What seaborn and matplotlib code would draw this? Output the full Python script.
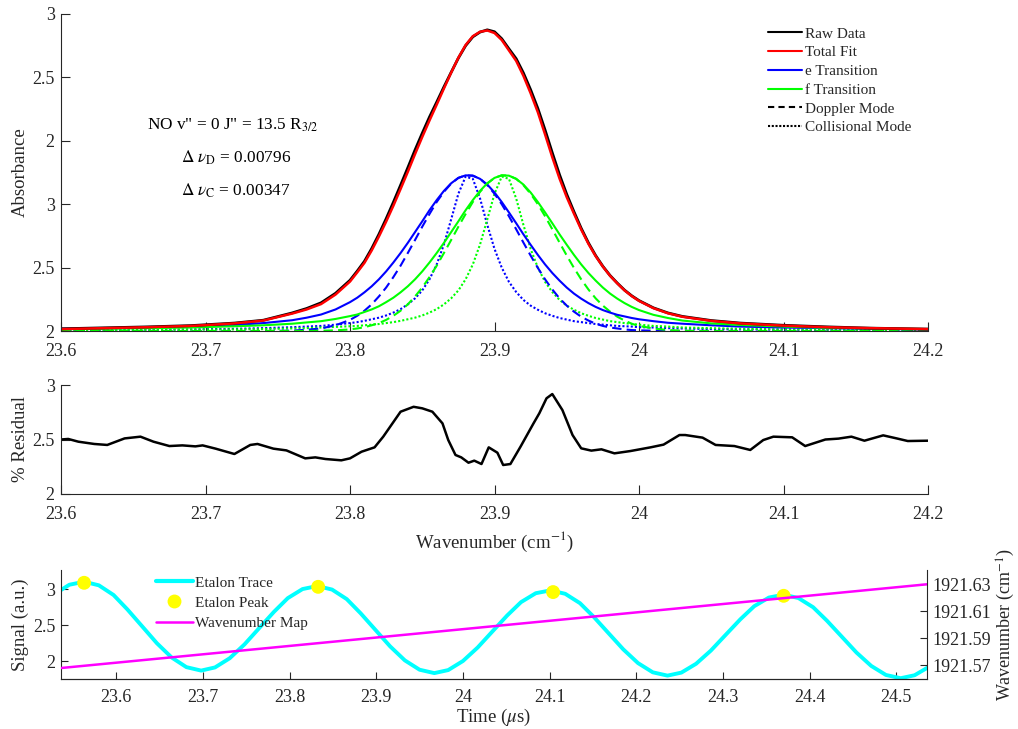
import matplotlib
matplotlib.use("Agg")
import matplotlib.pyplot as plt
import pandas as pd
import seaborn as sns
from matplotlib.lines import Line2D

# ---------------- top panel: absorbance profiles ----------------
wavenumber = [23.60, 23.63, 23.66, 23.69, 23.72, 23.74, 23.76, 23.77, 23.78, 23.79,
              23.800, 23.805, 23.810, 23.815, 23.820, 23.825, 23.830, 23.835, 23.840, 23.845,
              23.850, 23.855, 23.860, 23.865, 23.870, 23.875, 23.880, 23.885, 23.890, 23.895,
              23.900, 23.905, 23.910, 23.915, 23.920, 23.925, 23.930, 23.935, 23.940, 23.945,
              23.950, 23.955, 23.960, 23.965, 23.970, 23.975, 23.980, 23.985, 23.990, 23.995,
              24.000, 24.01, 24.02, 24.03, 24.05, 24.07, 24.10, 24.13, 24.16, 24.20]

raw_data = [.007, .010, .013, .017, .025, .034, .057, .071, .089, .119,
            .160, .189, .220, .260, .305, .354, .406, .460, .515, .571,
            .624, .675, .722, .770, .816, .861, .900, .928, .943, .950,
            .944, .922, .890, .859, .814, .761, .702, .634, .562, .493,
            .431, .376, .324, .278, .238, .204, .175, .151, .129, .111,
            .096, .073, .057, .046, .033, .025, .018, .013, .009, .006]

total_fit = [.006, .009, .012, .016, .024, .033, .055, .068, .085, .115,
             .156, .185, .215, .254, .298, .345, .395, .448, .502, .558,
             .612, .664, .714, .765, .815, .862, .902, .930, .944, .948,
             .940, .918, .885, .852, .805, .750, .690, .620, .548, .481,
             .422, .370, .320, .275, .236, .203, .174, .150, .128, .110,
             .095, .072, .056, .045, .032, .024, .017, .012, .009, .006]

e_voigt = [.007, .008, .011, .014, .019, .025, .034, .042, .052, .068,
           .091, .105, .122, .141, .163, .188, .216, .246, .278, .312,
           .346, .381, .413, .442, .466, .483, .491, .490, .480, .462,
           .437, .407, .374, .340, .305, .272, .240, .210, .183, .159,
           .137, .118, .102, .088, .076, .066, .058, .051, .046, .041,
           .037, .031, .026, .023, .018, .014, .011, .009, .007, .005]

e_doppler = [0, 0, 0, 0, 0, 0, .001, .004, .008, .018,
             .035, .048, .064, .084, .109, .137, .170, .206, .246, .287,
             .329, .369, .407, .439, .465, .483, .491, .490, .480, .460,
             .433, .400, .362, .321, .279, .238, .199, .163, .131, .103,
             .080, .061, .045, .033, .023, .016, .011, .008, .005, .003,
             .002, .001, 0, 0, 0, 0, 0, 0, 0, 0]

e_collisional = [.002, .003, .004, .005, .007, .009, .012, .014, .016, .020,
                 .025, .028, .032, .037, .042, .049, .058, .069, .084, .103,
                 .128, .163, .210, .273, .352, .433, .487, .480, .418, .335,
                 .259, .200, .155, .123, .098, .080, .067, .056, .048, .041,
                 .036, .031, .028, .025, .022, .020, .018, .016, .015, .014,
                 .012, .011, .009, .008, .006, .005, .004, .003, .002, .002]

f_voigt = [.006, .007, .009, .011, .015, .018, .023, .027, .031, .038,
           .047, .052, .060, .068, .078, .091, .105, .122, .141, .163,
           .188, .216, .246, .278, .312, .346, .381, .413, .442, .466,
           .483, .491, .490, .480, .462, .437, .407, .374, .340, .305,
           .272, .240, .210, .183, .159, .137, .118, .102, .088, .076,
           .066, .051, .041, .033, .024, .019, .014, .010, .008, .006]

f_doppler = [0, 0, 0, 0, 0, 0, 0, 0, .001, .002,
             .005, .008, .012, .018, .025, .035, .048, .064, .084, .109,
             .137, .170, .206, .246, .287, .329, .369, .407, .439, .465,
             .483, .491, .490, .480, .460, .433, .400, .362, .321, .279,
             .238, .199, .163, .131, .103, .080, .061, .045, .033, .023,
             .016, .008, .003, .001, 0, 0, 0, 0, 0, 0]

f_collisional = [.002, .002, .003, .004, .005, .006, .008, .009, .011, .013,
                 .015, .016, .018, .020, .022, .025, .028, .032, .037, .042,
                 .049, .058, .069, .084, .103, .128, .163, .210, .273, .352,
                 .433, .487, .480, .418, .335, .259, .200, .155, .123, .098,
                 .080, .067, .056, .048, .041, .036, .031, .028, .025, .022,
                 .020, .016, .014, .011, .009, .007, .005, .004, .003, .002]

absorbance_ticks = [0.0, 0.2, 0.4, 0.6, 0.8, 1.0]
absorbance_tick_labels = ['2', '2.5', '3', '2', '2.5', '3']
wavenumber_ticks = [23.6, 23.7, 23.8, 23.9, 24.0, 24.1, 24.2]
wavenumber_tick_labels = ['23.6', '23.7', '23.8', '23.9', '24', '24.1', '24.2']

# ---------------- middle panel: residual ----------------
residual_x = [23.600, 23.605, 23.612, 23.623, 23.632, 23.644, 23.655, 23.664, 23.675, 23.684,
              23.693, 23.698, 23.707, 23.720, 23.731, 23.736, 23.747, 23.756, 23.769, 23.776,
              23.783, 23.794, 23.800, 23.808, 23.817, 23.823, 23.835, 23.844, 23.850, 23.857,
              23.864, 23.868, 23.873, 23.877, 23.882, 23.886, 23.891, 23.896, 23.902, 23.906,
              23.911, 23.918, 23.927, 23.931, 23.936, 23.940, 23.947, 23.954, 23.960, 23.967,
              23.974, 23.983, 23.994, 24.008, 24.017, 24.028, 24.032, 24.044, 24.053, 24.066,
              24.077, 24.086, 24.093, 24.106, 24.115, 24.129, 24.138, 24.147, 24.156, 24.169,
              24.178, 24.186, 24.200]
residual_y = [2.500, 2.505, 2.480, 2.459, 2.450, 2.510, 2.526, 2.480, 2.440, 2.446,
              2.437, 2.446, 2.416, 2.367, 2.450, 2.459, 2.416, 2.400, 2.327, 2.336,
              2.321, 2.309, 2.327, 2.388, 2.428, 2.526, 2.755, 2.800, 2.786, 2.755,
              2.648, 2.495, 2.358, 2.336, 2.287, 2.306, 2.275, 2.428, 2.379, 2.266,
              2.275, 2.434, 2.648, 2.740, 2.878, 2.917, 2.770, 2.541, 2.419, 2.398,
              2.410, 2.373, 2.394, 2.428, 2.453, 2.541, 2.541, 2.517, 2.450, 2.440,
              2.404, 2.495, 2.526, 2.520, 2.440, 2.500, 2.508, 2.526, 2.489, 2.538,
              2.511, 2.486, 2.489]
residual_ticks = [2, 2.5, 3]

# ---------------- bottom panel: etalon ----------------
time_us = [23.529, 23.546, 23.563, 23.580, 23.597, 23.613, 23.630, 23.647, 23.664, 23.681,
           23.698, 23.714, 23.731, 23.748, 23.765, 23.782, 23.798, 23.815, 23.832, 23.849,
           23.866, 23.882, 23.899, 23.916, 23.933, 23.950, 23.967, 23.983, 24.000, 24.017,
           24.034, 24.051, 24.067, 24.084, 24.101, 24.118, 24.135, 24.151, 24.168, 24.185,
           24.202, 24.219, 24.236, 24.252, 24.269, 24.286, 24.303, 24.320, 24.336, 24.353,
           24.370, 24.387, 24.404, 24.420, 24.437, 24.454, 24.471, 24.488, 24.505, 24.521,
           24.538]
etalon_signal = [2.936, 3.065, 3.107, 3.057, 2.922, 2.721, 2.486, 2.251, 2.053, 1.919,
                 1.871, 1.915, 2.043, 2.235, 2.462, 2.688, 2.879, 3.005, 3.047, 2.998,
                 2.865, 2.668, 2.438, 2.208, 2.013, 1.883, 1.836, 1.878, 2.004, 2.192,
                 2.415, 2.637, 2.823, 2.947, 2.987, 2.939, 2.809, 2.617, 2.391, 2.166,
                 1.975, 1.847, 1.801, 1.843, 1.966, 2.149, 2.367, 2.584, 2.766, 2.887,
                 2.927, 2.880, 2.752, 2.564, 2.343, 2.122, 1.936, 1.810, 1.765, 1.806,
                 1.926]
peak_time = [23.563, 23.833, 24.104, 24.370]
peak_signal = [3.092, 3.036, 2.963, 2.911]
map_time = [23.536, 24.535]
map_wavenumber = [1921.568, 1921.630]
time_ticks = [23.6, 23.7, 23.8, 23.9, 24.0, 24.1, 24.2, 24.3, 24.4, 24.5]
time_tick_labels = ['23.6', '23.7', '23.8', '23.9', '24', '24.1', '24.2', '24.3', '24.4', '24.5']
signal_ticks = [2, 2.5, 3]
map_ticks = [1921.57, 1921.59, 1921.61, 1921.63]

# ---------------- style ----------------
sns.set_style("ticks")
AX = '#262626'
plt.rcParams['font.family'] = ['Liberation Serif', 'DejaVu Serif']
plt.rcParams['mathtext.fontset'] = 'stix'
plt.rcParams.update({
    'font.size': 12, 'axes.labelsize': 13.5,
    'xtick.labelsize': 13, 'ytick.labelsize': 13,
    'xtick.direction': 'in', 'ytick.direction': 'in',
    'axes.edgecolor': AX, 'axes.linewidth': 0.8,
    'xtick.color': AX, 'ytick.color': AX,
    'axes.labelcolor': AX, 'text.color': AX,
})

BLUE, GREEN, RED = '#0000FF', '#00FF00', '#FF0000'
DASH = (0, (4.5, 2.5))
DOT = (0, (1, 1))

df = pd.DataFrame({'wn': wavenumber, 'raw': raw_data, 'fit': total_fit,
                   'ev': e_voigt, 'ed': e_doppler, 'ec': e_collisional,
                   'fv': f_voigt, 'fd': f_doppler, 'fc': f_collisional})

fig = plt.figure(figsize=(10.18, 7.29), dpi=100)
W, H = 1018.0, 729.0
ax1 = fig.add_axes([61 / W, (H - 331) / H, 867 / W, 317 / H])
ax2 = fig.add_axes([61 / W, (H - 494) / H, 867 / W, 109 / H])
ax3 = fig.add_axes([60.7 / W, (H - 679) / H, 866 / W, 109 / H])

# top panel
for col, c, ls in [('ec', BLUE, DOT), ('fc', GREEN, DOT),
                   ('ed', BLUE, DASH), ('fd', GREEN, DASH),
                   ('ev', BLUE, '-'), ('fv', GREEN, '-')]:
    sns.lineplot(data=df, x='wn', y=col, ax=ax1, color=c, linestyle=ls, lw=1.5,
                 estimator=None, sort=False, legend=False)
sns.lineplot(data=df, x='wn', y='raw', ax=ax1, color='black', lw=2.0,
             estimator=None, sort=False, legend=False)
sns.lineplot(data=df, x='wn', y='fit', ax=ax1, color=RED, lw=1.8,
             estimator=None, sort=False, legend=False)
ax1.set_xlim(23.6, 24.2)
ax1.set_ylim(0, 1)
ax1.set_yticks(absorbance_ticks)
ax1.set_yticklabels(absorbance_tick_labels)
ax1.set_xticks(wavenumber_ticks)
ax1.set_xticklabels(wavenumber_tick_labels)
ax1.set_xlabel('')
ax1.set_ylabel('Absorbance')
ax1.yaxis.set_label_coords(-0.037, 0.5)
for s in ('top', 'right'):
    ax1.spines[s].set_visible(False)
ax1.tick_params(length=6.5, width=0.8)
ax1.tick_params(axis='x', pad=8.5)
ax1.tick_params(axis='y', pad=4.5)

handles = [Line2D([], [], color='black', lw=1.5),
           Line2D([], [], color=RED, lw=1.5),
           Line2D([], [], color=BLUE, lw=1.5),
           Line2D([], [], color=GREEN, lw=1.5),
           Line2D([], [], color='black', lw=1.5, linestyle=(0, (3, 2))),
           Line2D([], [], color='black', lw=1.5, linestyle=(0, (1, 0.8)))]
labels = ['Raw Data', 'Total Fit', 'e Transition', 'f Transition',
          'Doppler Mode', 'Collisional Mode']
fig.legend(handles, labels, loc='upper left', bbox_to_anchor=(768 / W, 1 - 27 / H),
           frameon=False, fontsize=11, handlelength=2.2, handletextpad=0.25,
           labelspacing=0.33, borderpad=0, borderaxespad=0)

fig.text(233 / W, 1 - 125 / H, 'NO v" = 0 J" = 13.5 R$_{3/2}$', ha='center', va='center',
         fontsize=12.4, color='black')
fig.text(236 / W, 1 - 158 / H, r'$\Delta\ \nu_{\mathrm{D}}$ = 0.00796', ha='center',
         va='center', fontsize=12.4, color='black')
fig.text(236 / W, 1 - 191 / H, r'$\Delta\ \nu_{\mathrm{C}}$ = 0.00347', ha='center',
         va='center', fontsize=12.4, color='black')

# middle panel
sns.lineplot(x=residual_x, y=residual_y, ax=ax2, color='black', lw=1.8,
             estimator=None, sort=False, legend=False)
ax2.set_xlim(23.6, 24.2)
ax2.set_ylim(2, 3)
ax2.set_yticks(residual_ticks)
ax2.set_yticklabels(['2', '2.5', '3'])
ax2.set_xticks(wavenumber_ticks)
ax2.set_xticklabels(wavenumber_tick_labels)
ax2.set_ylabel('% Residual')
ax2.set_xlabel('Wavenumber (cm$^{-1}$)')
ax2.yaxis.set_label_coords(-0.037, 0.5)
ax2.xaxis.set_label_coords(0.5, -0.33)
for s in ('top', 'right'):
    ax2.spines[s].set_visible(False)
ax2.tick_params(length=6.5, width=0.8)
ax2.tick_params(axis='x', pad=8.5)
ax2.tick_params(axis='y', pad=4.5)

# bottom panel
sns.lineplot(x=time_us, y=etalon_signal, ax=ax3, color='#00FFFF', lw=2.8,
             estimator=None, sort=False, legend=False)
sns.scatterplot(x=peak_time, y=peak_signal, ax=ax3, color='#FFFF00', s=100,
                edgecolor='none', zorder=5, legend=False)
ax3.set_xlim(23.536, 24.535)
ax3.set_ylim(1.754, 3.27)
ax3.set_yticks(signal_ticks)
ax3.set_yticklabels(['2', '2.5', '3'])
ax3.set_xticks(time_ticks)
ax3.set_xticklabels(time_tick_labels)
ax3.set_xlabel(r'Time ($\mu$s)')
ax3.set_ylabel('Signal (a.u.)')
ax3.yaxis.set_label_coords(-0.037, 0.5)
ax3.xaxis.set_label_coords(0.5, -0.26)
ax3.spines['top'].set_visible(False)
ax3.spines['right'].set_visible(False)
ax3.tick_params(length=5, width=0.8)
ax3.tick_params(axis='x', pad=7)
ax3.tick_params(axis='y', pad=4)

ax3r = ax3.twinx()
sns.lineplot(x=map_time, y=map_wavenumber, ax=ax3r, color='#FF00FF', lw=1.8,
             estimator=None, sort=False, legend=False)
ax3r.set_ylim(1921.5599, 1921.6406)
ax3r.set_yticks(map_ticks)
ax3r.set_yticklabels(['1921.57', '1921.59', '1921.61', '1921.63'])
ax3r.set_ylabel('Wavenumber (cm$^{-1}$)', fontsize=13)
ax3r.yaxis.set_label_coords(1.078, 0.5)
for s in ('top', 'left'):
    ax3r.spines[s].set_visible(False)
ax3r.tick_params(length=5, width=0.8, pad=4, direction='in')

h2 = [Line2D([], [], color='#00FFFF', lw=3),
      Line2D([], [], color='#FFFF00', marker='o', ms=10, lw=0, markeredgecolor='none'),
      Line2D([], [], color='#FF00FF', lw=1.8)]
fig.legend(h2, ['Etalon Trace', 'Etalon Peak', 'Wavenumber Map'], loc='upper left',
           bbox_to_anchor=(156 / W, 1 - 576 / H), frameon=False, fontsize=11,
           handlelength=2.4, handletextpad=0.15, labelspacing=0.42,
           borderpad=0, borderaxespad=0)

fig.savefig('out.png', dpi=100)
